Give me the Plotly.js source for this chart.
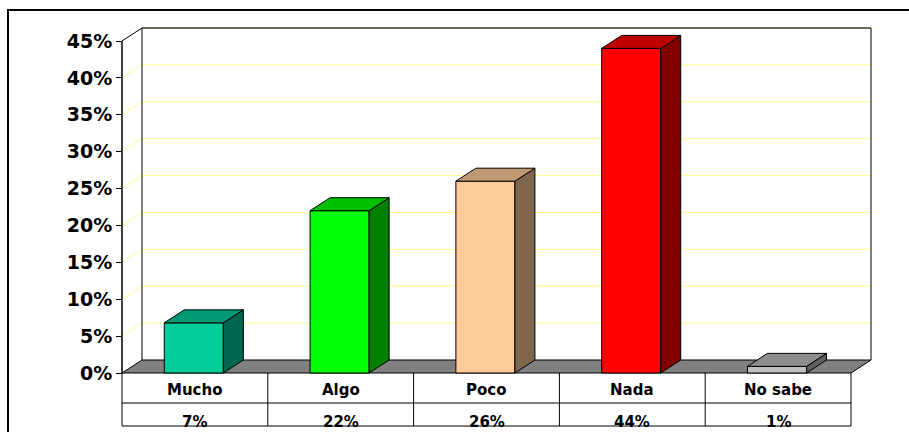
<!DOCTYPE html>
<html>
<head>
<meta charset="utf-8">
<script src="https://cdn.plot.ly/plotly-3.0.1.min.js"></script>
<style>html,body{margin:0;padding:0;background:#fff;}#chart{width:909px;height:432px;}</style>
</head>
<body>
<div id="chart"></div>
<script>
// ---- data ----
const categories = ['Mucho', 'Algo', 'Poco', 'Nada', 'No sabe'];
const values = [6.8, 22.0, 26.0, 44.0, 0.9];
const valueLabels = ['7%', '22%', '26%', '44%', '1%'];
const frontColors = ['#00CC99', '#00FF00', '#FFCC99', '#FF0000', '#C0C0C0'];
const topColors = ['#009973', '#00BF00', '#BF9973', '#BF0000', '#8E8E8E'];
const sideColors = ['#00664D', '#008000', '#80664D', '#800000', '#5E5E5E'];
const yTickVals = [0, 5, 10, 15, 20, 25, 30, 35, 40, 45];
const yTickText = ['0%', '5%', '10%', '15%', '20%', '25%', '30%', '35%', '40%', '45%'];

// ---- layout geometry (pixels) ----
const W = 909, H = 432;
const axisX = 122, zeroY = 373, topTickY = 41;
const unitW = 145.8;
const depthPX = 20, depthPY = 13;
const L = 112, R = 881, T = 22, B = 430;
const pxPerPct = (zeroY - topTickY) / 45;
const xmin = -0.5 - (axisX - L) / unitW;
const xmax = xmin + (R - L) / unitW;
const ymax = (zeroY - T) / pxPerPct;
const ymin = -(B - zeroY) / pxPerPct;
const dx = depthPX / unitW;
const dy = depthPY / pxPerPct;
const pyToY = py => (zeroY - py) / pxPerPct;
const n = categories.length;
const xs = categories.map((c, i) => i);
const barW = 0.405, barOff = -0.21;
const gridTop = yTickVals[yTickVals.length - 1];

const traces = [];
// front faces
traces.push({
  type: 'bar', x: xs, y: values, width: barW, offset: barOff,
  marker: {color: frontColors, line: {color: '#000', width: 1}},
  hoverinfo: 'skip', showlegend: false
});
// side and top faces
values.forEach((v, i) => {
  const x0 = xs[i] + barOff, x1 = x0 + barW;
  traces.push({
    type: 'scatter', mode: 'lines', fill: 'toself', fillcolor: sideColors[i],
    x: [x1, x1 + dx, x1 + dx, x1, x1], y: [0, dy, v + dy, v, 0],
    line: {color: '#000', width: 1}, hoverinfo: 'skip', showlegend: false
  });
  traces.push({
    type: 'scatter', mode: 'lines', fill: 'toself', fillcolor: topColors[i],
    x: [x0, x1, x1 + dx, x0 + dx, x0], y: [v, v, v + dy, v + dy, v],
    line: {color: '#000', width: 1}, hoverinfo: 'skip', showlegend: false
  });
});

const shapes = [];
const left = -0.5, right = n - 0.5;
// back wall
shapes.push({type: 'rect', xref: 'x', yref: 'y', layer: 'below',
  x0: left + dx, x1: right + dx, y0: dy, y1: gridTop + dy,
  fillcolor: '#FFFFFF', line: {width: 0}});
// gridlines on walls
yTickVals.forEach(v => {
  if (v === 0 || v === gridTop) return;
  shapes.push({type: 'line', xref: 'x', yref: 'y', layer: 'below',
    x0: left + dx, x1: right + dx, y0: v + dy, y1: v + dy, line: {color: '#FFFF88', width: 1}});
  shapes.push({type: 'line', xref: 'x', yref: 'y', layer: 'below',
    x0: left, x1: left + dx, y0: v, y1: v + dy, line: {color: '#FFFF88', width: 1}});
});
// wall edges
shapes.push({type: 'line', xref: 'x', yref: 'y', layer: 'below',
  x0: left + dx, x1: right + dx, y0: gridTop + dy, y1: gridTop + dy, line: {color: '#6B6B55', width: 2}});
shapes.push({type: 'line', xref: 'x', yref: 'y', layer: 'below',
  x0: left + dx, x1: left + dx, y0: dy, y1: gridTop + dy, line: {color: '#000', width: 1}});
shapes.push({type: 'line', xref: 'x', yref: 'y', layer: 'below',
  x0: right + dx, x1: right + dx, y0: dy, y1: gridTop + dy, line: {color: '#000', width: 1}});
shapes.push({type: 'line', xref: 'x', yref: 'y', layer: 'below',
  x0: left, x1: left + dx, y0: gridTop, y1: gridTop + dy, line: {color: '#000', width: 1}});
// front axis line
shapes.push({type: 'line', xref: 'x', yref: 'y', layer: 'below',
  x0: left, x1: left, y0: 0, y1: gridTop, line: {color: '#000', width: 1.5}});
// floor
shapes.push({type: 'path', xref: 'x', yref: 'y', layer: 'below',
  path: `M ${left} 0 L ${right} 0 L ${right + dx} ${dy} L ${left + dx} ${dy} Z`,
  fillcolor: '#808080', line: {color: '#000', width: 1}});
// data table
const rowDiv = pyToY(403), tableBottom = pyToY(426);
shapes.push({type: 'line', xref: 'x', yref: 'y', x0: left, x1: right, y0: rowDiv, y1: rowDiv, line: {color: '#000', width: 1}});
shapes.push({type: 'line', xref: 'x', yref: 'y', x0: left, x1: right, y0: tableBottom, y1: tableBottom, line: {color: '#000', width: 1}});
for (let k = 0; k <= n; k++) {
  shapes.push({type: 'line', xref: 'x', yref: 'y', x0: left + k, x1: left + k, y0: 0, y1: tableBottom, line: {color: '#000', width: 1}});
}
// outer frame
const px2paperX = px => (px - L) / (R - L);
const py2paperY = py => (B - py) / (B - T);
shapes.push({type: 'rect', xref: 'paper', yref: 'paper',
  x0: px2paperX(8), x1: px2paperX(915), y0: py2paperY(440), y1: py2paperY(10),
  line: {color: '#000', width: 2}, fillcolor: 'rgba(0,0,0,0)'});

const tableFont = {family: 'DejaVu Sans, Arial, sans-serif', size: 15, color: '#000', weight: 'bold'};
const annotations = [];
categories.forEach((c, i) => {
  annotations.push({xref: 'x', yref: 'y', x: xs[i], y: pyToY(390), text: c, showarrow: false,
    xanchor: 'center', yanchor: 'middle', font: tableFont});
  annotations.push({xref: 'x', yref: 'y', x: xs[i], y: pyToY(421.5), text: valueLabels[i], showarrow: false,
    xanchor: 'center', yanchor: 'middle', font: tableFont});
});

const layout = {
  width: W, height: H,
  margin: {l: L, r: W - R, t: T, b: H - B, pad: 0},
  paper_bgcolor: '#FFFFFF', plot_bgcolor: 'rgba(0,0,0,0)',
  showlegend: false, hovermode: false,
  xaxis: {range: [xmin, xmax], visible: false, fixedrange: true},
  yaxis: {range: [ymin, ymax], anchor: 'free', position: (axisX - L) / (R - L),
    tickvals: yTickVals, ticktext: yTickText, ticks: 'outside', ticklen: 6, tickwidth: 1, tickcolor: '#000',
    showgrid: false, zeroline: false, showline: false, fixedrange: true,
    tickfont: {family: 'DejaVu Sans, Arial, sans-serif', size: 19, color: '#000', weight: 'bold'}},
  shapes: shapes, annotations: annotations
};

Plotly.newPlot('chart', traces, layout, {displayModeBar: false, staticPlot: true});
</script>
</body>
</html>
